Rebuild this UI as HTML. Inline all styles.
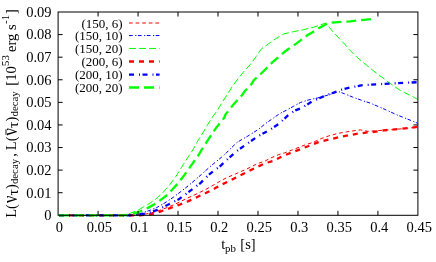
<!DOCTYPE html><html><head><meta charset="utf-8"><title>chart</title><style>
html,body{margin:0;padding:0;background:#fff;}
#c{will-change:transform;position:relative;width:436px;height:262px;overflow:hidden;background:#fff;}
svg text{font-family:"Liberation Serif",serif;fill:#000;}

</style></head><body><div id="c">
<svg width="436" height="262" viewBox="0 0 436 262" style="position:absolute;left:0;top:0">
<polyline points="59.0,215.3 134.0,215.3 142.0,214.6 150.0,213.2 158.0,210.9 165.0,208.4 176.0,203.8 187.0,198.3 198.0,193.3 209.0,187.7 218.0,182.4 226.0,178.0 235.6,173.9 246.6,169.1 257.6,163.6 265.5,160.8 270.5,158.1 278.8,154.6 284.3,153.0 292.5,149.8 304.9,145.0 313.1,142.3 321.9,138.3 328.8,135.9 338.4,133.3 346.6,131.9 354.9,130.6 360.4,129.9 368.0,131.4 383.8,130.2 397.5,129.2 411.3,127.8 417.7,126.8" fill="none" stroke="#ff0000" stroke-width="1.0" stroke-dasharray="3.7 2.9" stroke-dashoffset="0"/>
<polyline points="59.0,215.3 128.0,215.3 138.0,214.3 147.5,211.2 156.7,207.6 165.0,202.8 173.3,197.3 181.5,191.1 189.7,184.6 201.3,174.6 209.5,167.2 213.3,163.9 218.8,159.5 224.3,154.9 230.4,148.8 237.0,142.4 243.8,138.4 250.5,134.5 258.8,129.0 265.6,123.5 272.5,118.7 279.4,113.8 287.6,109.6 293.5,106.3 300.5,102.5 307.9,100.1 317.5,98.0 327.1,95.3 335.4,92.8 339.2,91.8 344.6,93.8 352.9,97.2 362.5,100.6 370.5,103.2 383.8,108.9 397.5,115.1 411.3,120.6 417.7,123.3" fill="none" stroke="#0000ff" stroke-width="1.0" stroke-dasharray="3.7 2.5 1.2 1.5" stroke-dashoffset="0"/>
<polyline points="59.0,215.3 116.0,215.3 124.0,214.6 131.0,213.0 138.3,210.0 147.5,204.7 156.1,198.9 162.5,193.0 169.5,185.1 176.0,176.3 183.4,164.4 188.2,156.9 192.8,150.0 198.1,140.4 202.9,132.9 207.7,124.6 213.2,116.0 217.4,110.3 222.9,101.3 227.7,93.8 232.5,86.2 237.0,80.0 243.6,71.8 250.4,64.3 256.0,56.7 261.8,48.4 268.8,43.6 275.6,38.8 283.9,33.9 293.5,31.6 303.1,29.8 313.5,27.2 325.8,23.0 332.5,31.3 339.0,38.2 344.9,44.4 348.8,49.1 357.0,57.3 364.6,63.5 372.8,70.4 378.8,74.9 389.8,83.2 400.8,90.8 414.5,97.6 417.7,99.5" fill="none" stroke="#00ff00" stroke-width="1.0" stroke-dasharray="7 3" stroke-dashoffset="0"/>
<polyline points="59.0,215.3 140.0,215.3 150.0,214.4 158.0,212.6 161.3,211.2 170.5,208.0 180.1,204.5 188.4,201.1 197.3,197.0 206.3,192.8 214.5,188.6 222.4,184.2 230.1,180.7 239.1,175.9 247.3,171.8 255.6,167.7 265.2,163.2 273.9,160.7 282.9,155.9 291.8,152.5 300.8,149.0 309.7,145.6 318.5,142.2 328.8,139.6 338.4,137.4 348.0,135.4 357.6,133.7 367.3,132.4 374.1,131.9 383.8,130.3 397.5,129.2 411.3,127.8 417.7,126.8" fill="none" stroke="#ff0000" stroke-width="2.3" stroke-dasharray="5 5" stroke-dashoffset="0"/>
<polyline points="59.0,215.3 132.0,215.3 140.0,214.6 147.5,213.2 156.7,210.2 165.0,206.2 178.8,199.3 189.8,191.1 200.7,182.9 208.8,174.8 214.6,170.1 219.0,167.2 227.7,159.1 236.8,151.0 247.0,143.9 258.0,136.2 269.1,130.3 279.4,123.4 289.0,114.4 295.5,110.4 302.4,107.6 312.0,101.4 323.0,96.6 335.2,92.0 341.9,89.6 351.5,87.2 362.5,85.2 376.3,84.3 392.5,83.4 406.3,82.8 417.7,82.2" fill="none" stroke="#0000ff" stroke-width="2.3" stroke-dasharray="5 5 1 2.5" stroke-dashoffset="0"/>
<polyline points="59.0,215.3 124.0,215.3 131.0,214.5 138.3,212.2 147.5,208.1 156.0,203.5 162.0,198.9 167.5,194.8 172.1,189.8 177.6,183.8 181.5,178.7 184.1,175.4 192.3,163.8 199.2,154.1 201.4,150.0 207.7,140.4 215.9,128.1 224.2,117.8 225.6,114.4 233.2,104.8 241.5,95.8 244.9,91.0 250.4,85.5 254.0,80.0 261.5,73.2 272.5,62.2 282.8,53.3 287.3,49.8 296.3,43.6 307.3,35.3 312.1,32.5 320.0,27.5 326.0,24.3 328.8,22.8 338.0,22.1 350.4,21.3 364.1,19.9 374.6,18.8" fill="none" stroke="#00ff00" stroke-width="2.3" stroke-dasharray="9.87 4.94" stroke-dashoffset="0"/>
<line x1="129" y1="23.0" x2="159.6" y2="23.0" stroke="#ff0000" stroke-width="1.0" stroke-dasharray="3.7 2.9"/>
<line x1="129" y1="35.55" x2="159.6" y2="35.55" stroke="#0000ff" stroke-width="1.0" stroke-dasharray="3.7 2.5 1.2 1.5"/>
<line x1="129" y1="48.45" x2="159.6" y2="48.45" stroke="#00ff00" stroke-width="1.0" stroke-dasharray="7 3"/>
<line x1="129" y1="61.5" x2="159.6" y2="61.5" stroke="#ff0000" stroke-width="2.3" stroke-dasharray="5 5"/>
<line x1="129" y1="74.55" x2="159.6" y2="74.55" stroke="#0000ff" stroke-width="2.3" stroke-dasharray="5 5 1 2.5"/>
<line x1="129" y1="87.5" x2="159.6" y2="87.5" stroke="#00ff00" stroke-width="2.3" stroke-dasharray="10 5"/>
<rect x="58.1" y="12.0" width="359.79999999999995" height="203.3" fill="none" stroke="#000" stroke-width="1"/>
<line x1="98.08" y1="215.3" x2="98.08" y2="210.8" stroke="#000" stroke-width="1"/>
<line x1="98.08" y1="12.0" x2="98.08" y2="16.5" stroke="#000" stroke-width="1"/>
<line x1="138.06" y1="215.3" x2="138.06" y2="210.8" stroke="#000" stroke-width="1"/>
<line x1="138.06" y1="12.0" x2="138.06" y2="16.5" stroke="#000" stroke-width="1"/>
<line x1="178.03" y1="215.3" x2="178.03" y2="210.8" stroke="#000" stroke-width="1"/>
<line x1="178.03" y1="12.0" x2="178.03" y2="16.5" stroke="#000" stroke-width="1"/>
<line x1="218.01" y1="215.3" x2="218.01" y2="210.8" stroke="#000" stroke-width="1"/>
<line x1="218.01" y1="12.0" x2="218.01" y2="16.5" stroke="#000" stroke-width="1"/>
<line x1="257.99" y1="215.3" x2="257.99" y2="210.8" stroke="#000" stroke-width="1"/>
<line x1="257.99" y1="12.0" x2="257.99" y2="16.5" stroke="#000" stroke-width="1"/>
<line x1="297.97" y1="215.3" x2="297.97" y2="210.8" stroke="#000" stroke-width="1"/>
<line x1="297.97" y1="12.0" x2="297.97" y2="16.5" stroke="#000" stroke-width="1"/>
<line x1="337.94" y1="215.3" x2="337.94" y2="210.8" stroke="#000" stroke-width="1"/>
<line x1="337.94" y1="12.0" x2="337.94" y2="16.5" stroke="#000" stroke-width="1"/>
<line x1="377.92" y1="215.3" x2="377.92" y2="210.8" stroke="#000" stroke-width="1"/>
<line x1="377.92" y1="12.0" x2="377.92" y2="16.5" stroke="#000" stroke-width="1"/>
<line x1="58.1" y1="192.71" x2="62.6" y2="192.71" stroke="#000" stroke-width="1"/>
<line x1="417.9" y1="192.71" x2="413.4" y2="192.71" stroke="#000" stroke-width="1"/>
<line x1="58.1" y1="170.12" x2="62.6" y2="170.12" stroke="#000" stroke-width="1"/>
<line x1="417.9" y1="170.12" x2="413.4" y2="170.12" stroke="#000" stroke-width="1"/>
<line x1="58.1" y1="147.53" x2="62.6" y2="147.53" stroke="#000" stroke-width="1"/>
<line x1="417.9" y1="147.53" x2="413.4" y2="147.53" stroke="#000" stroke-width="1"/>
<line x1="58.1" y1="124.94" x2="62.6" y2="124.94" stroke="#000" stroke-width="1"/>
<line x1="417.9" y1="124.94" x2="413.4" y2="124.94" stroke="#000" stroke-width="1"/>
<line x1="58.1" y1="102.36" x2="62.6" y2="102.36" stroke="#000" stroke-width="1"/>
<line x1="417.9" y1="102.36" x2="413.4" y2="102.36" stroke="#000" stroke-width="1"/>
<line x1="58.1" y1="79.77" x2="62.6" y2="79.77" stroke="#000" stroke-width="1"/>
<line x1="417.9" y1="79.77" x2="413.4" y2="79.77" stroke="#000" stroke-width="1"/>
<line x1="58.1" y1="57.18" x2="62.6" y2="57.18" stroke="#000" stroke-width="1"/>
<line x1="417.9" y1="57.18" x2="413.4" y2="57.18" stroke="#000" stroke-width="1"/>
<line x1="58.1" y1="34.59" x2="62.6" y2="34.59" stroke="#000" stroke-width="1"/>
<line x1="417.9" y1="34.59" x2="413.4" y2="34.59" stroke="#000" stroke-width="1"/>
<text x="51.50" y="220.20" text-anchor="end" font-size="14.5" >0</text>
<text x="51.50" y="197.61" text-anchor="end" font-size="14.5" >0.01</text>
<text x="51.50" y="175.02" text-anchor="end" font-size="14.5" >0.02</text>
<text x="51.50" y="152.43" text-anchor="end" font-size="14.5" >0.03</text>
<text x="51.50" y="129.84" text-anchor="end" font-size="14.5" >0.04</text>
<text x="51.50" y="107.26" text-anchor="end" font-size="14.5" >0.05</text>
<text x="51.50" y="84.67" text-anchor="end" font-size="14.5" >0.06</text>
<text x="51.50" y="62.08" text-anchor="end" font-size="14.5" >0.07</text>
<text x="51.50" y="39.49" text-anchor="end" font-size="14.5" >0.08</text>
<text x="51.50" y="16.90" text-anchor="end" font-size="14.5" >0.09</text>
<text x="59.40" y="232.10" text-anchor="middle" font-size="14.5" >0</text>
<text x="99.38" y="232.10" text-anchor="middle" font-size="14.5" >0.05</text>
<text x="139.36" y="232.10" text-anchor="middle" font-size="14.5" >0.1</text>
<text x="179.33" y="232.10" text-anchor="middle" font-size="14.5" >0.15</text>
<text x="219.31" y="232.10" text-anchor="middle" font-size="14.5" >0.2</text>
<text x="259.29" y="232.10" text-anchor="middle" font-size="14.5" >0.25</text>
<text x="299.27" y="232.10" text-anchor="middle" font-size="14.5" >0.3</text>
<text x="339.24" y="232.10" text-anchor="middle" font-size="14.5" >0.35</text>
<text x="379.22" y="232.10" text-anchor="middle" font-size="14.5" >0.4</text>
<text x="419.20" y="232.10" text-anchor="middle" font-size="14.5" >0.45</text>
<text x="122.60" y="27.70" text-anchor="end" font-size="13" >(150, 6)</text>
<text x="122.60" y="40.25" text-anchor="end" font-size="13" >(150, 10)</text>
<text x="122.60" y="53.15" text-anchor="end" font-size="13" >(150, 20)</text>
<text x="122.60" y="66.20" text-anchor="end" font-size="13" >(200, 6)</text>
<text x="122.60" y="79.25" text-anchor="end" font-size="13" >(200, 10)</text>
<text x="122.60" y="92.20" text-anchor="end" font-size="13" >(200, 20)</text>
<text x="221.25" y="248.9" font-size="14.5">t</text>
<text x="225.1" y="251.8" font-size="10.8">pb</text>
<text x="240.3" y="248.9" font-size="14.5">[s]</text>
<text transform="translate(15.7,217.8) rotate(-90)" font-size="14.5">L(</text>
<text transform="translate(16.5,203.0) rotate(-90) scale(0.82,1)" font-size="20">&#957;</text>
<text transform="translate(18.1,195.6) rotate(-90)" font-size="15.5">&#964;</text>
<text transform="translate(15.7,189.1) rotate(-90)" font-size="14.5">)</text>
<text transform="translate(18.1,184.1) rotate(-90)" font-size="10.8">decay</text>
<text transform="translate(15.7,156.85) rotate(-90)" font-size="14.5">,</text>
<text transform="translate(15.7,150.2) rotate(-90)" font-size="14.5">L(</text>
<text transform="translate(16.5,135.4) rotate(-90) scale(0.82,1)" font-size="20">&#957;</text>
<text transform="translate(18.1,128.0) rotate(-90)" font-size="15.5">&#964;</text>
<text transform="translate(15.7,121.5) rotate(-90)" font-size="14.5">)</text>
<text transform="translate(18.1,116.5) rotate(-90)" font-size="10.8">decay</text>
<text transform="translate(15.7,85.7) rotate(-90)" font-size="14.5">[10</text>
<text transform="translate(9.4,65.9) rotate(-90)" font-size="10.8">53</text>
<text transform="translate(15.7,52.0) rotate(-90)" font-size="14.5">erg s</text>
<text transform="translate(9.4,23.9) rotate(-90)" font-size="10.8">-1</text>
<text transform="translate(15.7,13.9) rotate(-90)" font-size="14.5">]</text>
<line x1="6" y1="129.3" x2="6" y2="134.9" stroke="#000" stroke-width="0.9"/>
</svg>
</div></body></html>
